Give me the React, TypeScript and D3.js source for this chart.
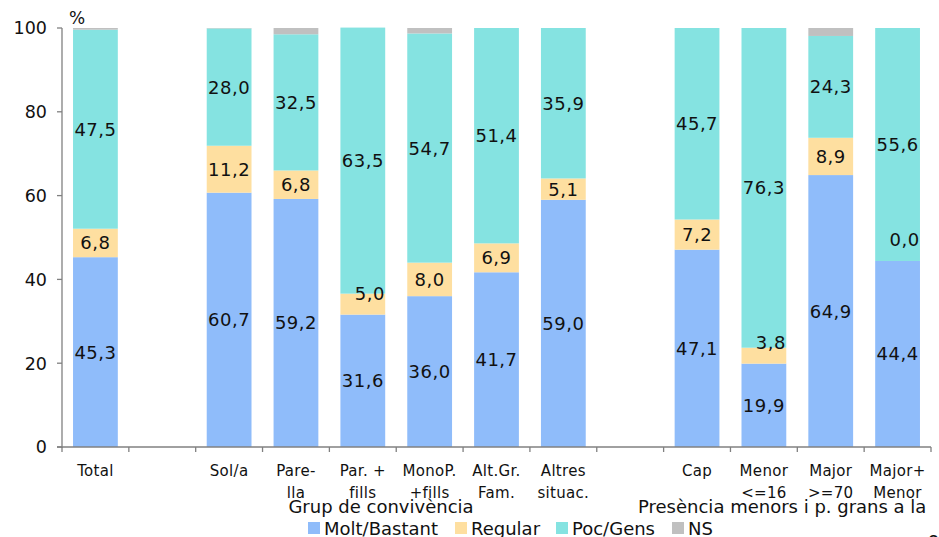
import React from "react";
import * as d3 from "d3";

const categories = [
  "Total", "", "Sol/a", "Pare-\nlla", "Par. +\nfills", "MonoP.\n+fills",
  "Alt.Gr.\nFam.", "Altres\nsituac.", "", "Cap", "Menor\n<=16", "Major\n>=70", "Major+\nMenor",
];
const moltBastant = [45.3, null, 60.7, 59.2, 31.6, 36.0, 41.7, 59.0, null, 47.1, 19.9, 64.9, 44.4];
const regular = [6.8, null, 11.2, 6.8, 5.0, 8.0, 6.9, 5.1, null, 7.2, 3.8, 8.9, 0.0];
const pocGens = [47.5, null, 28.0, 32.5, 63.5, 54.7, 51.4, 35.9, null, 45.7, 76.3, 24.3, 55.6];
const ns = [0.4, null, 0.1, 1.5, 0, 1.3, 0, 0, null, 0, 0, 1.9, 0];
const yTicks = [0, 20, 40, 60, 80, 100];

const seriesNames = ["Molt/Bastant", "Regular", "Poc/Gens", "NS"];
const seriesColors = ["#8FBCFA", "#FEDFA0", "#85E3E1", "#C0C0C0"];
const seriesValues = [moltBastant, regular, pocGens, ns];
const labelled = [true, true, true, false];

const W = 939;
const H = 537;
const FONT = "DejaVu Sans, Verdana, sans-serif";

export default function App() {
  const x = d3
    .scaleBand<number>()
    .domain(categories.map((_, i) => i))
    .range([62, 931])
    .paddingInner(0.33)
    .paddingOuter(0.165);
  const y = d3.scaleLinear().domain([0, 100]).range([447, 28]);
  const step = x.step();
  const fmt = (v: number) => v.toFixed(1).replace(".", ",");

  const bars: React.ReactNode[] = [];
  const labels: React.ReactNode[] = [];
  categories.forEach((_, i) => {
    if (moltBastant[i] === null) return;
    let base = 0;
    const bx = x(i)!;
    const bw = x.bandwidth();
    seriesValues.forEach((arr, s) => {
      const v = arr[i] as number;
      const y0 = y(base);
      const y1 = y(base + v);
      if (v > 0) {
        bars.push(
          <rect key={`b${s}-${i}`} x={bx} y={y1} width={bw} height={y0 - y1} fill={seriesColors[s]} />
        );
      }
      if (labelled[s]) {
        const small = y0 - y1 < 21;
        const cx = bx + bw / 2 + (small ? 7 : 0);
        const cy = small ? y0 - 21.5 : (y0 + y1) / 2;
        labels.push(
          <text
            key={`l${s}-${i}`}
            x={cx}
            y={cy}
            dy="0.36em"
            textAnchor="middle"
            fontSize={18}
            letterSpacing={0.5}
            fill="#111"
          >
            {fmt(v)}
          </text>
        );
      }
      base += v;
    });
  });

  const legendX = [308, 455, 556, 672];

  return (
    <svg
      width={W}
      height={H}
      style={{ position: "absolute", left: 0, top: 0, background: "#fff" }}
      fontFamily={FONT}
    >
      <rect x={0} y={0} width={W} height={H} fill="#fff" />
      {bars}
      {/* y axis */}
      <line x1={62} x2={62} y1={y(100)} y2={y(0) + 1} stroke="#808080" strokeWidth={1.3} />
      {yTicks.map((t) => (
        <g key={`yt${t}`}>
          <line x1={57} x2={62} y1={y(t)} y2={y(t)} stroke="#808080" strokeWidth={1.3} />
          <text x={47} y={y(t)} dy="0.36em" textAnchor="end" fontSize={17.5} fill="#111">
            {t}
          </text>
        </g>
      ))}
      <text x={69} y={24} fontSize={17} fill="#111">%</text>
      {/* x axis */}
      <line x1={57} x2={931} y1={y(0)} y2={y(0)} stroke="#808080" strokeWidth={1.3} />
      {d3.range(categories.length + 1).map((k) => {
        const tx = 62 + k * step;
        return <line key={`xt${k}`} x1={tx} x2={tx} y1={y(0)} y2={y(0) + 5} stroke="#808080" strokeWidth={1.3} />;
      })}
      {categories.map((c, i) =>
        c
          ? c.split("\n").map((line, j) => (
              <text
                key={`cl${i}-${j}`}
                x={x(i)! + x.bandwidth() / 2}
                y={476 + j * 22}
                textAnchor="middle"
                fontSize={15}
                letterSpacing={0.3}
                fill="#111"
              >
                {line}
              </text>
            ))
          : null
      )}
      {labels}
      <text x={381} y={513} textAnchor="middle" fontSize={18} fill="#111">
        Grup de convivència
      </text>
      <text x={638} y={513} fontSize={18} fill="#111">
        Presència menors i p. grans a la
      </text>
      {seriesNames.map((n, s) => (
        <g key={`lg${s}`}>
          <rect x={legendX[s]} y={522} width={12} height={12} fill={seriesColors[s]} />
          <text x={legendX[s] + 16} y={535} fontSize={18} fill="#111">
            {n}
          </text>
        </g>
      ))}
      <text x={928} y={548} fontSize={17} fill="#111">8</text>
    </svg>
  );
}
